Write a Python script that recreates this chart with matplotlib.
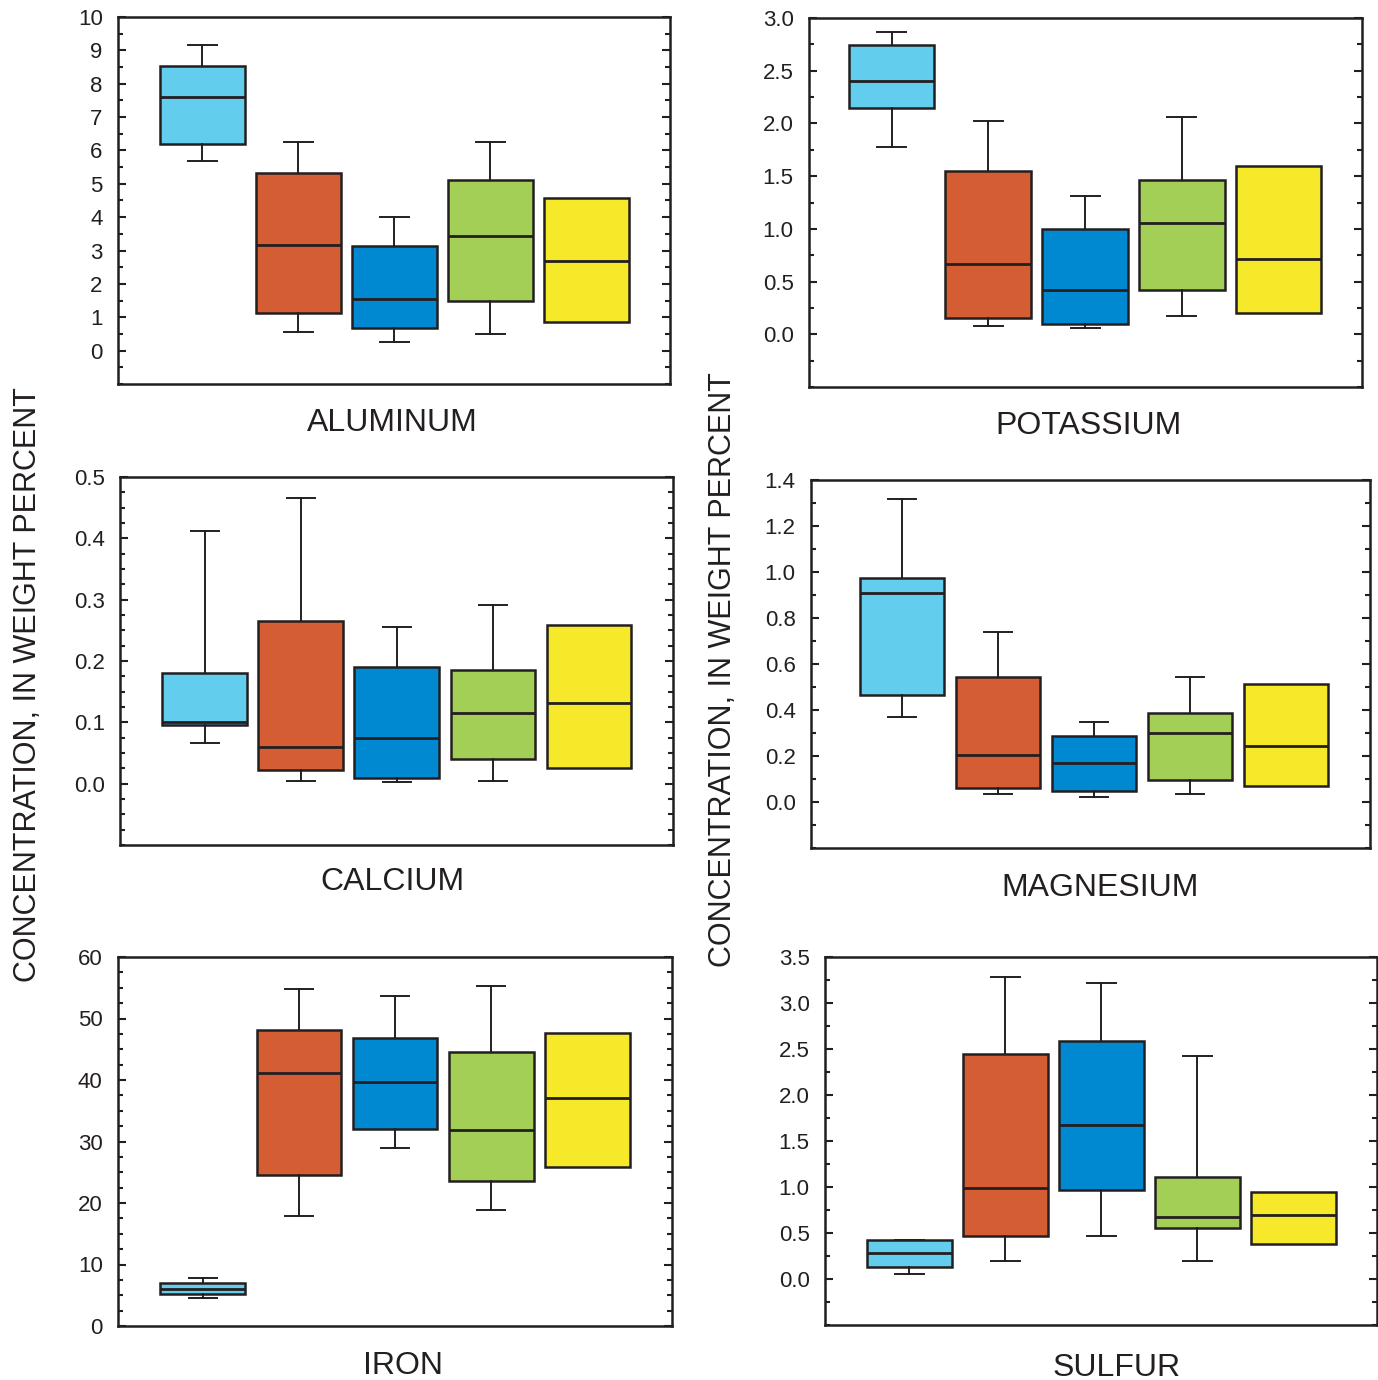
import numpy as np
import matplotlib
matplotlib.use("Agg")
import matplotlib.pyplot as plt

plt.rcParams['font.family'] = ['Liberation Sans', 'DejaVu Sans']

colors = ['#62CDEC', '#D45D33', '#0088D1', '#A4CF57', '#F6E929']

# box statistics per element: lower whisker, Q1, median, Q3, upper whisker
# (None = no whiskers drawn)
al_lo = [5.67, 0.57, 0.27, 0.51, None]
al_q1 = [6.18, 1.13, 0.69, 1.49, 0.87]
al_med = [7.61, 3.16, 1.55, 3.43, 2.69]
al_q3 = [8.54, 5.31, 3.13, 5.10, 4.57]
al_hi = [9.16, 6.24, 4.00, 6.24, None]

k_lo = [1.78, 0.08, 0.06, 0.17, None]
k_q1 = [2.15, 0.15, 0.095, 0.42, 0.20]
k_med = [2.40, 0.67, 0.42, 1.06, 0.71]
k_q3 = [2.74, 1.55, 1.00, 1.46, 1.60]
k_hi = [2.87, 2.02, 1.31, 2.06, None]

ca_lo = [0.067, 0.005, 0.003, 0.005, None]
ca_q1 = [0.095, 0.023, 0.010, 0.041, 0.026]
ca_med = [0.101, 0.060, 0.075, 0.116, 0.132]
ca_q3 = [0.181, 0.266, 0.191, 0.185, 0.258]
ca_hi = [0.412, 0.466, 0.255, 0.292, None]

mg_lo = [0.368, 0.035, 0.022, 0.035, None]
mg_q1 = [0.464, 0.061, 0.048, 0.095, 0.069]
mg_med = [0.91, 0.204, 0.169, 0.299, 0.243]
mg_q3 = [0.975, 0.542, 0.286, 0.386, 0.511]
mg_hi = [1.318, 0.741, 0.347, 0.542, None]

fe_lo = [4.6, 17.9, 28.9, 18.9, None]
fe_q1 = [5.2, 24.6, 32.0, 23.6, 25.9]
fe_med = [6.0, 41.1, 39.6, 31.8, 37.0]
fe_q3 = [7.0, 48.1, 46.8, 44.5, 47.6]
fe_hi = [7.8, 54.8, 53.6, 55.3, None]

s_lo = [0.05, 0.20, 0.47, 0.20, None]
s_q1 = [0.13, 0.47, 0.97, 0.55, 0.38]
s_med = [0.28, 0.99, 1.67, 0.67, 0.70]
s_q3 = [0.42, 2.45, 2.59, 1.11, 0.95]
s_hi = [0.42, 3.28, 3.22, 2.42, None]

W, H = 1378, 1380
fig = plt.figure(figsize=(W / 100, H / 100), dpi=100)

panels = [
    # name, data, pixel box (l, t, r, b), ylim, major, minor, fmt, xlim, title (x, y)
    ('ALUMINUM', (al_lo, al_q1, al_med, al_q3, al_hi), (118, 17, 670, 384),
     (-1, 10), 1, 0.5, '{:.0f}', (0.12, 5.87), (392, 419)),
    ('POTASSIUM', (k_lo, k_q1, k_med, k_q3, k_hi), (809, 18, 1362, 387),
     (-0.5, 3.0), 0.5, 0.25, '{:.1f}', (0.147, 5.863), (1089, 423)),
    ('CALCIUM', (ca_lo, ca_q1, ca_med, ca_q3, ca_hi), (120, 477, 673, 845),
     (-0.1, 0.5), 0.1, 0.025, '{:.1f}', (0.115, 5.875), (392, 878)),
    ('MAGNESIUM', (mg_lo, mg_q1, mg_med, mg_q3, mg_hi), (811, 480, 1370, 848),
     (-0.2, 1.4), 0.2, 0.1, '{:.1f}', (0.052, 5.875), (1100, 884)),
    ('IRON', (fe_lo, fe_q1, fe_med, fe_q3, fe_hi), (118, 957, 672, 1326),
     (0, 60), 10, 2.5, '{:.0f}', (0.115, 5.885), (403, 1362)),
    ('SULFUR', (s_lo, s_q1, s_med, s_q3, s_hi), (825, 957, 1377, 1325),
     (-0.5, 3.5), 0.5, 0.25, '{:.1f}', (0.12, 5.87), (1117, 1364)),
]

for name, (lo, q1, med, q3, hi), (l, t, r, b), ylim, major, minor, fmt, xlim, (tx, ty) in panels:
    ax = fig.add_axes([l / W, 1 - b / H, (r - l) / W, (b - t) / H])
    stats = []
    for i in range(5):
        stats.append({
            'whislo': lo[i] if lo[i] is not None else q1[i],
            'q1': q1[i], 'med': med[i], 'q3': q3[i],
            'whishi': hi[i] if hi[i] is not None else q3[i],
            'fliers': [],
        })
    bp = ax.bxp(stats, positions=range(1, 6), widths=0.885, capwidths=0.3,
                patch_artist=True, showfliers=False,
                boxprops=dict(linewidth=1.8, edgecolor='#231f20'),
                medianprops=dict(color='#231f20', linewidth=2.0),
                whiskerprops=dict(color='#231f20', linewidth=1.4),
                capprops=dict(color='#231f20', linewidth=1.4))
    for patch, c in zip(bp['boxes'], colors):
        patch.set_facecolor(c)
    # boxes without whiskers: hide the zero-length whiskers and their caps
    for i in range(5):
        if lo[i] is None:
            bp['whiskers'][2 * i].set_visible(False)
            bp['caps'][2 * i].set_visible(False)
        if hi[i] is None:
            bp['whiskers'][2 * i + 1].set_visible(False)
            bp['caps'][2 * i + 1].set_visible(False)
    ax.set_xlim(*xlim)
    ax.set_ylim(*ylim)
    top = ylim[1]
    ticks = np.arange(0, top + major / 2, major)
    ax.set_yticks(ticks)
    ax.set_yticklabels([fmt.format(v) for v in ticks])
    ax.set_yticks(np.arange(ylim[0], top + minor / 2, minor), minor=True)
    ax.tick_params(axis='y', which='both', direction='in', left=True, right=True,
                   width=1.5, color='#231f20', labelsize=16, pad=11,
                   labelcolor='#231f20')
    ax.tick_params(axis='y', which='major', length=6)
    ax.tick_params(axis='y', which='minor', length=3.6)
    ax.tick_params(axis='x', bottom=False, labelbottom=False)
    for sp in ax.spines.values():
        sp.set_linewidth(1.8)
        sp.set_color('#231f20')
    fig.text(tx / W, 1 - ty / H, name, ha='center', va='center_baseline',
             fontsize=23, color='#231f20')

fig.text(28 / W, 1 - 685 / H, 'CONCENTRATION, IN WEIGHT PERCENT', rotation=90,
         ha='center', va='center', fontsize=22, color='#231f20')
fig.text(723 / W, 1 - 670 / H, 'CONCENTRATION, IN WEIGHT PERCENT', rotation=90,
         ha='center', va='center', fontsize=22, color='#231f20')

fig.savefig('out.png', dpi=100)
